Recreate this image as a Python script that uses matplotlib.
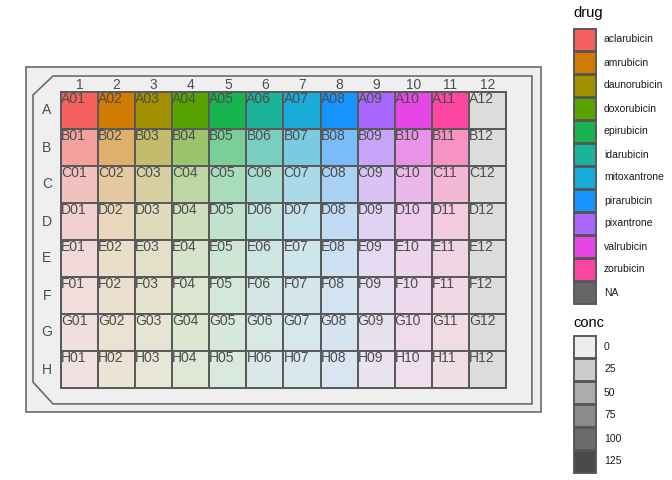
import matplotlib.pyplot as plt
from matplotlib.patches import Rectangle, Polygon
import numpy as np

plt.rcParams['font.family'] = ['Liberation Sans', 'DejaVu Sans']

# data
rows = ['A', 'B', 'C', 'D', 'E', 'F', 'G', 'H']
cols = list(range(1, 13))
drugs = ['aclarubicin', 'amrubicin', 'daunorubicin', 'doxorubicin', 'epirubicin',
         'idarubicin', 'mitoxantrone', 'pirarubicin', 'pixantrone', 'valrubicin',
         'zorubicin', 'NA']
drug_colors = ['#F5625D', '#D17B00', '#A19000', '#57A300', '#18B44F', '#1BB39A',
               '#1AACD8', '#1794FF', '#A868FF', '#E546E5', '#FD45A2', '#666666']
col_drug = drugs  # one drug per column, column 12 is NA
row_conc = [125, 62.5, 31.25, 15.625, 7.8125, 3.90625, 1.953125, 0]
conc_breaks = [0, 25, 50, 75, 100, 125]
conc_max = 125
alpha_min, alpha_max = 0.1, 1.0
na_alpha = 0.14

plate_bg = '#EFEFEF'
edge = '#5A5A5A'
txt = '#4D4D4D'

def alpha_of(c):
    return alpha_min + (alpha_max - alpha_min) * c / conc_max

def blend(hexcol, a, bg):
    fc = np.array([int(hexcol[i:i + 2], 16) for i in (1, 3, 5)]) / 255
    bc = np.array([int(bg[i:i + 2], 16) for i in (1, 3, 5)]) / 255
    return tuple(a * fc + (1 - a) * bc)

fig = plt.figure(figsize=(7, 5), dpi=96)
W, H = 672, 480

# main axes in well units (cell ~37 px)
cell_x, cell_y = 37.08, 37.0
x0px, y0px = 61, 92
ax = fig.add_axes([0, 0, 560 / W, 1])
ax.set_xlim((0 - x0px) / cell_x + 0.5, (560 - x0px) / cell_x + 0.5)
ax.set_ylim((H - y0px) / cell_y + 0.5, (0 - y0px) / cell_y + 0.5)
ax.axis('off')

# plate frame (in well units relative to grid)
ol, orr, ot, ob = -0.444, 13.445, -0.176, 9.149
ax.add_patch(Rectangle((ol, ot), orr - ol, ob - ot, facecolor=plate_bg,
                       edgecolor='#666666', lw=1.2, zorder=1))
il, ir, it, ib = -0.255, 13.2, 0.068, 8.93
bev_x, bev_top, bev_bot = 0.284, 0.58, 8.34
ax.add_patch(Polygon([(bev_x, it), (ir, it), (ir, ib), (bev_x, ib), (il, bev_bot),
                      (il, bev_top)], closed=True, facecolor=plate_bg,
                     edgecolor='#666666', lw=1.2, zorder=2))

# wells
for ri, r in enumerate(rows):
    for ci, c in enumerate(cols):
        d = col_drug[ci]
        col = drug_colors[drugs.index(d)]
        a = na_alpha if d == 'NA' else alpha_of(row_conc[ri])
        fc = blend(col, a, plate_bg)
        ax.add_patch(Rectangle((c - 0.5, ri + 1 - 0.5), 1, 1, facecolor=fc,
                               edgecolor=edge, lw=1.5, zorder=3))
        ax.text(c - 0.5, ri + 1 - 0.5 - 0.01, f'{r}{c:02d}', ha='left', va='top',
                fontsize=10.5, color=txt, zorder=4)

for c in cols:
    ax.text(c, 0.43, str(c), ha='center', va='baseline', fontsize=10.3, color=txt, zorder=4)
for ri, r in enumerate(rows):
    ax.text(0.122, ri + 1, r, ha='center', va='center', fontsize=10.5, color=txt, zorder=4)

# legends in pixel coords
lg = fig.add_axes([560 / W, 0, 112 / W, 1])
lg.set_xlim(560, 672)
lg.set_ylim(H, 0)
lg.axis('off')
key_w, key_h = 22, 23
kx = 574
lg.text(573, 13, 'drug', fontsize=11, color='black', va='center', ha='left')
for i, (d, col) in enumerate(zip(drugs, drug_colors)):
    ky = 28 + i * key_h
    lg.add_patch(Rectangle((kx, ky + 0.5), key_w, key_h - 1, facecolor=col,
                           edgecolor='#555555', lw=1.4))
    lg.text(604, ky + key_h / 2, d, fontsize=7.8, va='center', ha='left', color='#1A1A1A')

lg.text(573, 323, 'conc', fontsize=11, color='black', va='center', ha='left')
for i, cb in enumerate(conc_breaks):
    ky = 335 + i * key_h
    fc = blend('#4A4A4A', alpha_of(cb), '#FFFFFF')
    lg.add_patch(Rectangle((kx, ky + 0.5), key_w, key_h - 1, facecolor=fc,
                           edgecolor='#555555', lw=1.4))
    lg.text(604, ky + key_h / 2, str(cb), fontsize=7.8, va='center', ha='left', color='#1A1A1A')

fig.savefig('out.png', dpi=96)
